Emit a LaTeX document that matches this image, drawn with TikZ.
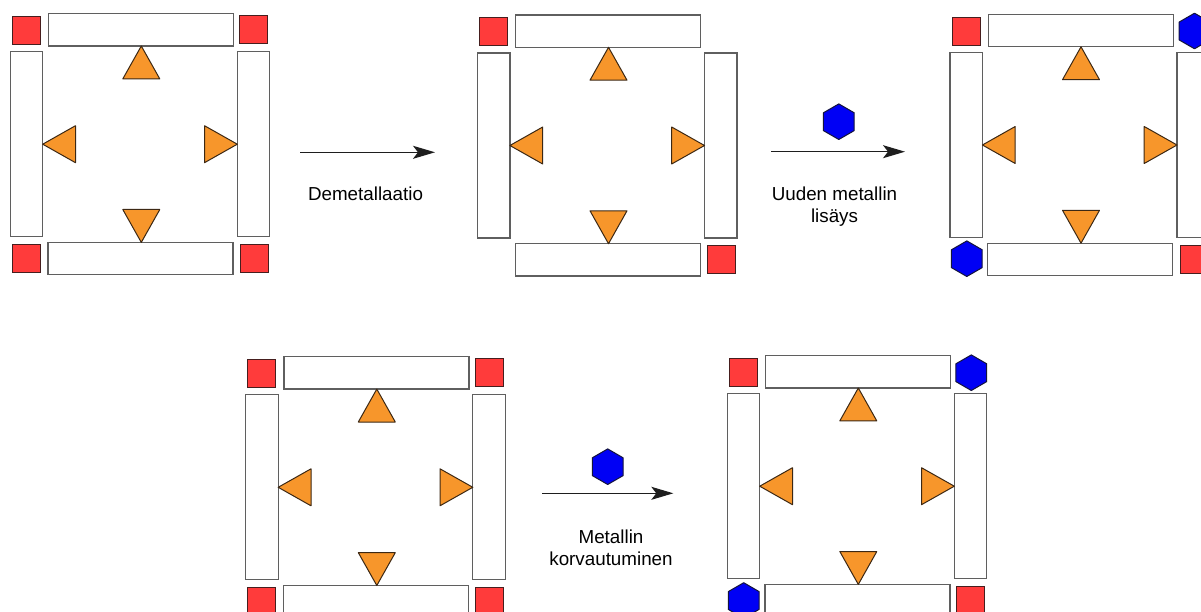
\documentclass[tikz,border=0pt]{standalone}
\usepackage{fontspec}
\setmainfont{Liberation Sans}
\usetikzlibrary{arrows.meta}
\definecolor{redfill}{RGB}{255,59,59}
\definecolor{redline}{RGB}{70,30,30}
\definecolor{orfill}{RGB}{247,150,43}
\definecolor{orline}{RGB}{60,40,20}
\definecolor{hexfill}{RGB}{0,0,245}
\definecolor{hexline}{RGB}{20,20,60}
\definecolor{barline}{RGB}{95,95,95}
\definecolor{arrline}{RGB}{30,30,30}
\tikzset{
  x=1pt, y=-1pt,
  barbox/.style={draw=barline, fill=white, line width=1.3pt},
  ligand/.style={draw=orline, fill=orfill, line width=1pt, line join=round},
  metalsq/.style={draw=redline, fill=redfill, line width=1pt},
  metalhex/.style={draw=hexline, fill=hexfill, line width=1pt, line join=round},
  reaction/.style={draw=arrline, line width=1.1pt, -{Stealth[length=22pt,width=13pt,inset=5pt]}},
  label/.style={font=\fontsize{18.8}{22}\selectfont, align=center, inner sep=0pt},
  cage/.pic={
    \draw[barbox] (-129.7,-92.5) rectangle (-97.3,92.5);
    \draw[barbox] (97.3,-92.5) rectangle (129.7,92.5);
    \draw[barbox] (-91.5,-130.5) rectangle (93.5,-98.2);
    \draw[barbox] (-92,98.2) rectangle (93,130.5);
    \draw[ligand] (1.3,-98.2) -- (19.8,-65.3) -- (-17.2,-65.3) -- cycle;
    \draw[ligand] (1.3,98.2) -- (19.8,65.3) -- (-17.2,65.3) -- cycle;
    \draw[ligand] (-97.3,0) -- (-64.5,-18.5) -- (-64.5,18.5) -- cycle;
    \draw[ligand] (97.3,0) -- (64.5,-18.5) -- (64.5,18.5) -- cycle;
  },
  redsq/.pic={\draw[metalsq] (-14,-14) rectangle (14,14);},
  bluehex/.pic={\draw[metalhex] (90:17.8) -- (150:17.8) -- (210:17.8) -- (270:17.8) -- (330:17.8) -- (30:17.8) -- cycle;}
}
\begin{document}
\begin{tikzpicture}
\useasboundingbox (0,0) rectangle (1201,612);
\clip (0,0) rectangle (1201,612);
% panel 1
\pic at (140,144.2) {cage};
\pic at (26.2,30.3) {redsq};
\pic at (253.8,29.8) {redsq};
\pic at (26.2,258.5) {redsq};
\pic at (254,258.8) {redsq};
% panel 2
\pic at (607.2,145.5) {cage};
\pic at (493.8,32) {redsq};
\pic at (721,259.7) {redsq};
% panel 3
\pic at (1079.7,145) {cage};
\pic at (966.3,31.3) {redsq};
\pic at (1194.5,31) {bluehex};
\pic at (966.8,258.7) {bluehex};
\pic at (1194,259.2) {redsq};
% panel 4
\pic at (375.5,487.3) {cage};
\pic at (261.8,373.7) {redsq};
\pic at (489.2,372.5) {redsq};
\pic at (261.4,601.5) {redsq};
\pic at (489.4,601.5) {redsq};
% panel 5
\pic at (857,486.2) {cage};
\pic at (743.3,372.3) {redsq};
\pic at (971.3,372.7) {bluehex};
\pic at (743.7,600.5) {bluehex};
\pic at (970.7,600.5) {redsq};
% reactions
\coordinate (a1s) at (300,152.3);
\coordinate (a1e) at (435,152.3);
\draw[reaction] (a1s) -- (a1e);
\node[label] (t1) at (365.5,194) {Demetallaatio};
\coordinate (a2s) at (771,151.7);
\coordinate (a2e) at (905,151.7);
\draw[reaction] (a2s) -- (a2e);
\pic at (838.8,121.7) {bluehex};
\node[label] (t2) at (834.5,207) {Uuden metallin\\lisäys};
\coordinate (a3s) at (542.3,493.3);
\coordinate (a3e) at (673.3,493.3);
\draw[reaction] (a3s) -- (a3e);
\pic at (607.7,466.7) {bluehex};
\node[label] (t3) at (611,547.5) {Metallin\\korvautuminen};
\end{tikzpicture}
\end{document}
